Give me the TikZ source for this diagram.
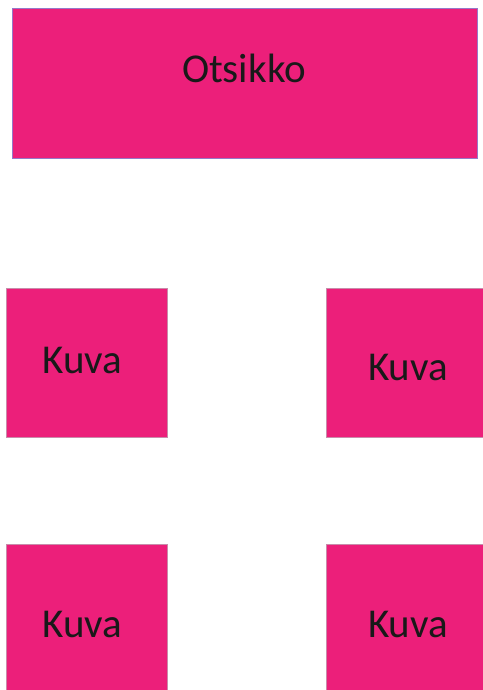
\documentclass[tikz,border=0pt]{standalone}
\usepackage{fontspec}
\setmainfont{Carlito}
\definecolor{boxpink}{RGB}{236,31,122}
\definecolor{titleedge}{RGB}{150,120,200}
\definecolor{boxedge}{RGB}{200,140,170}
\begin{document}
\begin{tikzpicture}[x=1pt,y=-1pt,
  pinkbox/.style={fill=boxpink,draw=boxedge,line width=0.8pt},
  titlebox/.style={fill=boxpink,draw=titleedge,line width=1pt},
  lbl/.style={anchor=base,inner sep=0pt,font=\fontsize{41}{48}\selectfont,text=black!90}]
\useasboundingbox (0,0) rectangle (482,690);
\fill[white] (0,0) rectangle (482,690);
\draw[titlebox] (12,9) rectangle (477,158);
\coordinate (t) at (12,9);
\draw[pinkbox] (6,288) rectangle (167,437);
\draw[pinkbox] (326,288) rectangle (483,437);
\draw[pinkbox] (6,544) rectangle (167,691);
\draw[pinkbox] (326,544) rectangle (483,691);
\node[lbl] (title) at (244,83) {Otsikko};
\node[lbl] (k1) at (82.5,373) {Kuva};
\node[lbl] (k2) at (408,380) {Kuva};
\node[lbl] (k3) at (82.5,637) {Kuva};
\node[lbl] (k4) at (408,637) {Kuva};
\end{tikzpicture}
\end{document}
